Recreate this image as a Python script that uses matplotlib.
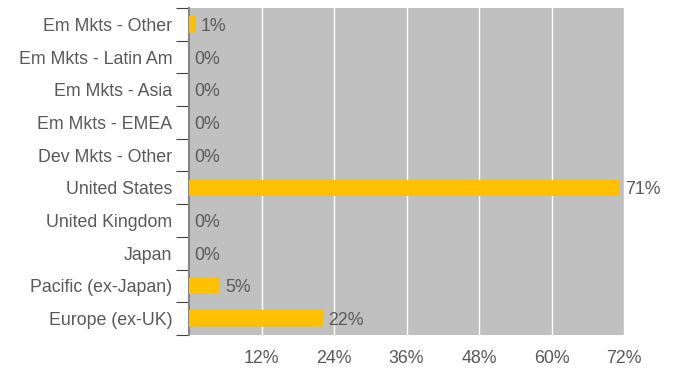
import matplotlib.pyplot as plt
import numpy as np

# data (bottom to top)
regions = ['Europe (ex-UK)', 'Pacific (ex-Japan)', 'Japan', 'United Kingdom',
           'United States', 'Dev Mkts - Other', 'Em Mkts - EMEA', 'Em Mkts - Asia',
           'Em Mkts - Latin Am', 'Em Mkts - Other']
weights = [22.2, 5.1, 0.0, 0.0, 71.3, 0.0, 0.0, 0.0, 0.0, 1.1]
labels = ['22%', '5%', '0%', '0%', '71%', '0%', '0%', '0%', '0%', '1%']
xticks = [12, 24, 36, 48, 60, 72]

plt.rcParams['font.family'] = ['Liberation Sans', 'DejaVu Sans']
txt = '#595959'
fs = 12.8

fig = plt.figure(figsize=(6.75, 3.68), dpi=100)
ax = fig.add_axes([189 / 675, 1 - 335 / 368, 435 / 675, 327 / 368])
ax.set_facecolor('#c0c0c0')

y = np.arange(len(regions))
ax.barh(y, weights, height=0.51, color='#ffc000', zorder=3)
for yi, w, lab in zip(y, weights, labels):
    ax.text(w + 0.9, yi, lab, va='center_baseline', ha='left', fontsize=fs, color=txt, zorder=4)

ax.set_xlim(0, 72)
ax.set_ylim(-0.5, len(regions) - 0.5)
ax.set_xticks(xticks)
ax.set_xticklabels([f'{t}%' for t in xticks], fontsize=fs, color=txt)
ax.tick_params(axis='x', length=0, pad=11)
ax.grid(axis='x', color='white', linewidth=1, zorder=1)

ax.set_yticks(y)
ax.set_yticklabels(regions, fontsize=fs, color=txt)
ax.set_yticks(np.arange(-0.5, len(regions), 1), minor=True)
ax.tick_params(axis='y', which='major', length=0, pad=12)
ax.tick_params(axis='y', which='minor', length=9.5, color='#404040', width=0.8)

for s in ['top', 'right', 'bottom']:
    ax.spines[s].set_visible(False)
ax.spines['left'].set_color('#868686')
ax.spines['left'].set_linewidth(1.5)

fig.savefig('out.png', dpi=100)
